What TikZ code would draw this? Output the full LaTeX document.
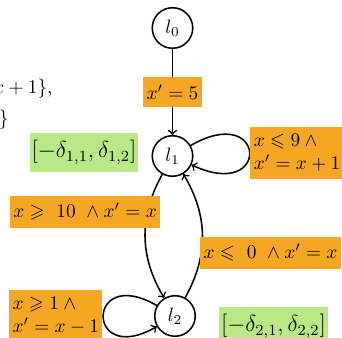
\documentclass[tikz,border=0pt]{standalone}
\usepackage{amssymb}
\definecolor{guardorange}{RGB}{245,166,35}
\definecolor{invgreen}{RGB}{184,233,134}
\tikzset{
    loc/.style={circle, draw, thick, minimum size=21pt, inner sep=0pt},
    guard/.style={fill=guardorange, inner xsep=1.8pt, inner ysep=3.8pt, align=left},
    inv/.style={fill=invgreen, font=\large, inner xsep=1pt, inner ysep=4pt},
    trans/.style={->, thick}
}
\begin{document}
\begin{tikzpicture}[x=0.518pt, y=-0.518pt]
    \useasboundingbox (0,0) rectangle (342,338);
    % Text cut at the left side
    \node[anchor=base east, inner sep=0pt] (restA) at (53,94) {$\{x' = x + 1\}$,};
    \node[anchor=base east, inner sep=0pt] (restB) at (9,125) {$x\}$};
    % Locations
    \node[loc] (l0) at (172.5,28) {$l_0$};
    \node[loc] (l1) at (172.5,156) {$l_1$};
    \node[loc] (l2) at (175,316) {$l_2$};
    % Invariants
    \node[inv] (i1) at (84,152.5) {$[-\delta_{1,1}, \delta_{1,2}]$};
    \node[inv] (i2) at (273.5,326.5) {$[-\delta_{2,1}, \delta_{2,2}]$};
    % Transitions
    \draw[trans] (l0) -- node[guard] (g0) {$x' = 5$} (l1);
    \draw[trans] (l1) to[out=30, in=-25, distance=16mm] node[guard, right] (g1) {$x \leqslant 9 \wedge{}$\\$x' = x + 1$} (l1);
    \draw[trans] (l1) to[bend right=30] node[guard, pos=0.3, left=-7pt] (g2) {$x \geqslant\ 10\ \wedge x' = x$} (l2);
    \draw[trans] (l2) to[bend right=30] node[guard, pos=0.36, right=-1pt] (g3) {$x \leqslant\ 0\ \wedge x' = x$} (l1);
    \draw[trans] (l2) to[out=150, in=210, distance=15mm] node[guard, left] (g4) {$x \geqslant 1 \wedge{}$\\$x' = x - 1$} (l2);
\end{tikzpicture}
\end{document}
